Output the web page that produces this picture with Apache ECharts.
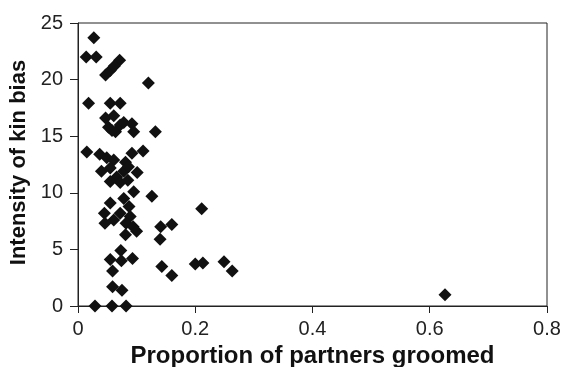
<!DOCTYPE html>
<html>
<head>
<meta charset="utf-8">
<script src="https://cdn.jsdelivr.net/npm/echarts@6/dist/echarts.min.js"></script>
<style>
  html, body { margin: 0; padding: 0; background: #fff; }
  #chart { width: 562px; height: 367px; }
</style>
</head>
<body>
<div id="chart"></div>
<script>
// Proportion of grooming partners per individual
const proportionGroomed = [
  0.027, 0.014, 0.031, 0.071, 0.047, 0.055, 0.062, 0.120,
  0.018, 0.055, 0.072, 0.047, 0.061, 0.052, 0.064, 0.072, 0.078, 0.092, 0.095, 0.058, 0.132,
  0.015, 0.037, 0.049, 0.061, 0.092, 0.111, 0.081,
  0.040, 0.055, 0.066, 0.078, 0.086, 0.101, 0.055, 0.072, 0.085,
  0.095, 0.126, 0.078, 0.055, 0.045, 0.072, 0.087, 0.089, 0.046, 0.061, 0.082, 0.094, 0.100, 0.081,
  0.141, 0.160, 0.140, 0.211,
  0.073, 0.055, 0.074, 0.093, 0.059, 0.059, 0.075,
  0.143, 0.160, 0.200, 0.213, 0.249, 0.263,
  0.626, 0.029, 0.058, 0.082
];
// Intensity of kin bias for the same individuals
const kinBias = [
  23.7, 22.0, 22.0, 21.7, 20.4, 20.8, 21.2, 19.7,
  17.9, 17.9, 17.9, 16.6, 16.8, 15.8, 15.4, 16.0, 16.2, 16.1, 15.4, 15.5, 15.4,
  13.6, 13.4, 13.1, 12.9, 13.5, 13.7, 12.7,
  11.9, 12.2, 11.4, 11.9, 12.3, 11.8, 11.0, 10.9, 11.1,
  10.1, 9.7, 9.5, 9.1, 8.2, 8.2, 8.8, 7.9, 7.3, 7.6, 7.3, 7.0, 6.6, 6.3,
  7.0, 7.2, 5.9, 8.6,
  4.9, 4.1, 4.0, 4.2, 3.1, 1.7, 1.4,
  3.5, 2.7, 3.7, 3.8, 3.9, 3.1,
  1.0, 0, 0, 0
];
const xTicks = [0, 0.2, 0.4, 0.6, 0.8];
const yTicks = [0, 5, 10, 15, 20, 25];

const points = proportionGroomed.map((x, i) => [x, kinBias[i]]);

const font = '"Liberation Sans", Arial, Helvetica, sans-serif';
const chart = echarts.init(document.getElementById('chart'), null, { renderer: 'canvas' });
chart.setOption({
  animation: false,
  backgroundColor: '#fff',
  grid: {
    left: 78, right: 15, top: 23, bottom: 61,
    outerBoundsMode: 'none',
    show: true, borderColor: '#222', borderWidth: 1
  },
  xAxis: {
    type: 'value',
    min: xTicks[0], max: xTicks[xTicks.length - 1], interval: 0.2,
    name: 'Proportion of partners groomed',
    nameLocation: 'middle', nameGap: 37,
    nameTextStyle: { fontFamily: font, fontWeight: 'bold', fontSize: 24, color: '#111' },
    axisLine: { lineStyle: { color: '#222', width: 1 } },
    axisTick: { show: true, length: 7, inside: false, lineStyle: { color: '#222' } },
    axisLabel: {
      fontFamily: font, fontSize: 20, color: '#222', margin: 13,
      formatter: v => String(Math.round(v * 10) / 10)
    },
    splitLine: { show: false }
  },
  yAxis: {
    type: 'value',
    min: yTicks[0], max: yTicks[yTicks.length - 1], interval: 5,
    name: 'Intensity of kin bias',
    nameLocation: 'middle', nameGap: 45,
    nameTextStyle: {
      fontFamily: font, fontWeight: 'bold', fontSize: 22, color: '#111',
      padding: [0, 0, 0, 4]
    },
    axisLine: { lineStyle: { color: '#222', width: 1 } },
    axisTick: { show: true, length: 8, inside: false, lineStyle: { color: '#222' } },
    axisLabel: { fontFamily: font, fontSize: 20, color: '#222', margin: 15 },
    splitLine: { show: false }
  },
  series: [{
    type: 'scatter',
    data: points,
    symbol: 'diamond',
    symbolSize: 13,
    itemStyle: { color: '#111', opacity: 1 }
  }]
});
</script>
</body>
</html>
